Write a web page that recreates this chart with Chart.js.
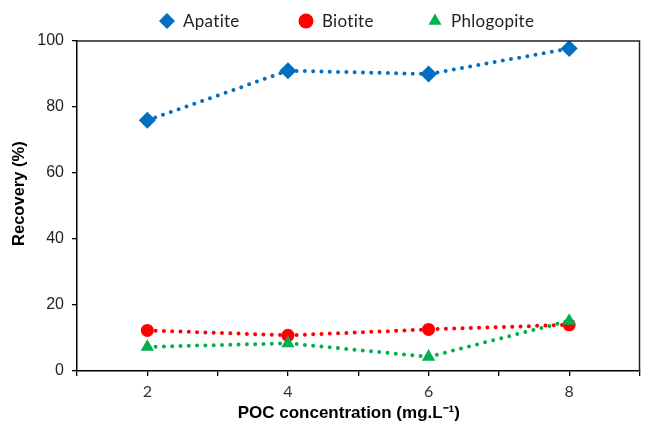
<!DOCTYPE html>
<html>
<head>
<meta charset="utf-8">
<script src="https://cdn.jsdelivr.net/npm/chart.js@4.4.0/dist/chart.umd.min.js"></script>
<style>
  html, body { margin: 0; padding: 0; background: #fff; }
  #wrap { width: 648px; height: 424px; }
</style>
</head>
<body>
<div id="wrap"><canvas id="chart"></canvas></div>
<script>
// values
const concentrations = [2, 4, 6, 8];
const apatite = [76, 91, 90, 97.7];
const biotite = [12.3, 10.8, 12.6, 14];
const phlogopite = [7.3, 8.4, 4.3, 15.2];
const yTicks = [0, 20, 40, 60, 80, 100];
const xTicks = [2, 4, 6, 8];

const toPoints = (values) => values.map((y, i) => ({ x: concentrations[i], y }));

const series = (label, values, color, pointStyle, radius, order) => ({
  label,
  data: toPoints(values),
  showLine: true,
  borderColor: color,
  backgroundColor: color,
  borderWidth: 4,
  borderDash: [0, 8.3],
  borderCapStyle: 'round',
  pointStyle,
  pointRadius: radius,
  pointHoverRadius: radius,
  pointBorderWidth: 0,
  order,
});

const datasets = [
  series('Apatite', apatite, '#0070C0', 'rectRot', 8.5, 2),
  series('Biotite', biotite, '#FF0000', 'circle', 6.5, 1),
  series('Phlogopite', phlogopite, '#00B050', 'triangle', 7.7, 0),
];

// top/right frame lines plus the legend row above the plot
const frameAndLegend = {
  id: 'frameAndLegend',
  afterDraw(chart) {
    const { ctx, chartArea } = chart;
    ctx.save();
    ctx.strokeStyle = '#222';
    ctx.lineWidth = 1.5;
    ctx.beginPath();
    ctx.moveTo(chartArea.left, chartArea.top);
    ctx.lineTo(chartArea.right, chartArea.top);
    ctx.lineTo(chartArea.right, chartArea.bottom);
    ctx.stroke();

    const markerX = [167, 306, 435];
    ctx.font = '17px Lato';
    ctx.letterSpacing = '0.3px';
    ctx.textBaseline = 'middle';
    ctx.textAlign = 'left';
    datasets.forEach((ds, i) => {
      ctx.fillStyle = ds.backgroundColor;
      Chart.helpers.drawPoint(ctx, {
        pointStyle: ds.pointStyle, radius: i === 0 ? 8 : 7.5, rotation: 0, borderWidth: 0,
      }, markerX[i], 21);
      ctx.fillStyle = '#222';
      ctx.fillText(ds.label, markerX[i] + 16, 22);
    });
    ctx.restore();
  },
};

new Chart(document.getElementById('chart'), {
  type: 'scatter',
  data: { datasets },
  options: {
    responsive: true,
    maintainAspectRatio: false,
    animation: false,
    layout: { padding: { top: 41, right: 6, bottom: 0, left: 0 } },
    plugins: { legend: { display: false }, tooltip: { enabled: false } },
    scales: {
      x: {
        type: 'linear',
        min: 1,
        max: 9,
        ticks: {
          stepSize: 1,
          padding: 6,
          color: '#333',
          font: { family: 'Lato', size: 16 },
          callback: (v) => (xTicks.includes(v) ? v : ''),
        },
        grid: { drawOnChartArea: false, tickLength: 5, color: '#000', lineWidth: 1.3 },
        border: { color: '#000', width: 1.5 },
        title: {
          display: true,
          text: 'POC concentration (mg.L\u207B\u00B9)    ',
          color: '#000',
          font: { family: 'Liberation Sans', size: 17, weight: 'bold' },
          padding: { top: 0, bottom: 0 },
        },
        afterFit(scale) { scale.height = 53; },
      },
      y: {
        min: 0,
        max: 100,
        afterBuildTicks(scale) { scale.ticks = yTicks.map((value) => ({ value })); },
        ticks: {
          padding: 8,
          color: '#222',
          font: { family: 'Liberation Sans', size: 16 },
        },
        grid: { drawOnChartArea: false, tickLength: 5, color: '#000', lineWidth: 1.3 },
        border: { color: '#000', width: 1.5 },
        title: {
          display: true,
          text: '\u2003\u2002Recovery (%)',
          color: '#000',
          font: { family: 'Liberation Sans', size: 16.5, weight: 'bold' },
          padding: { top: 10, bottom: 0 },
        },
        afterFit(scale) { scale.width = 77; },
      },
    },
  },
  plugins: [frameAndLegend],
});
</script>
</body>
</html>
